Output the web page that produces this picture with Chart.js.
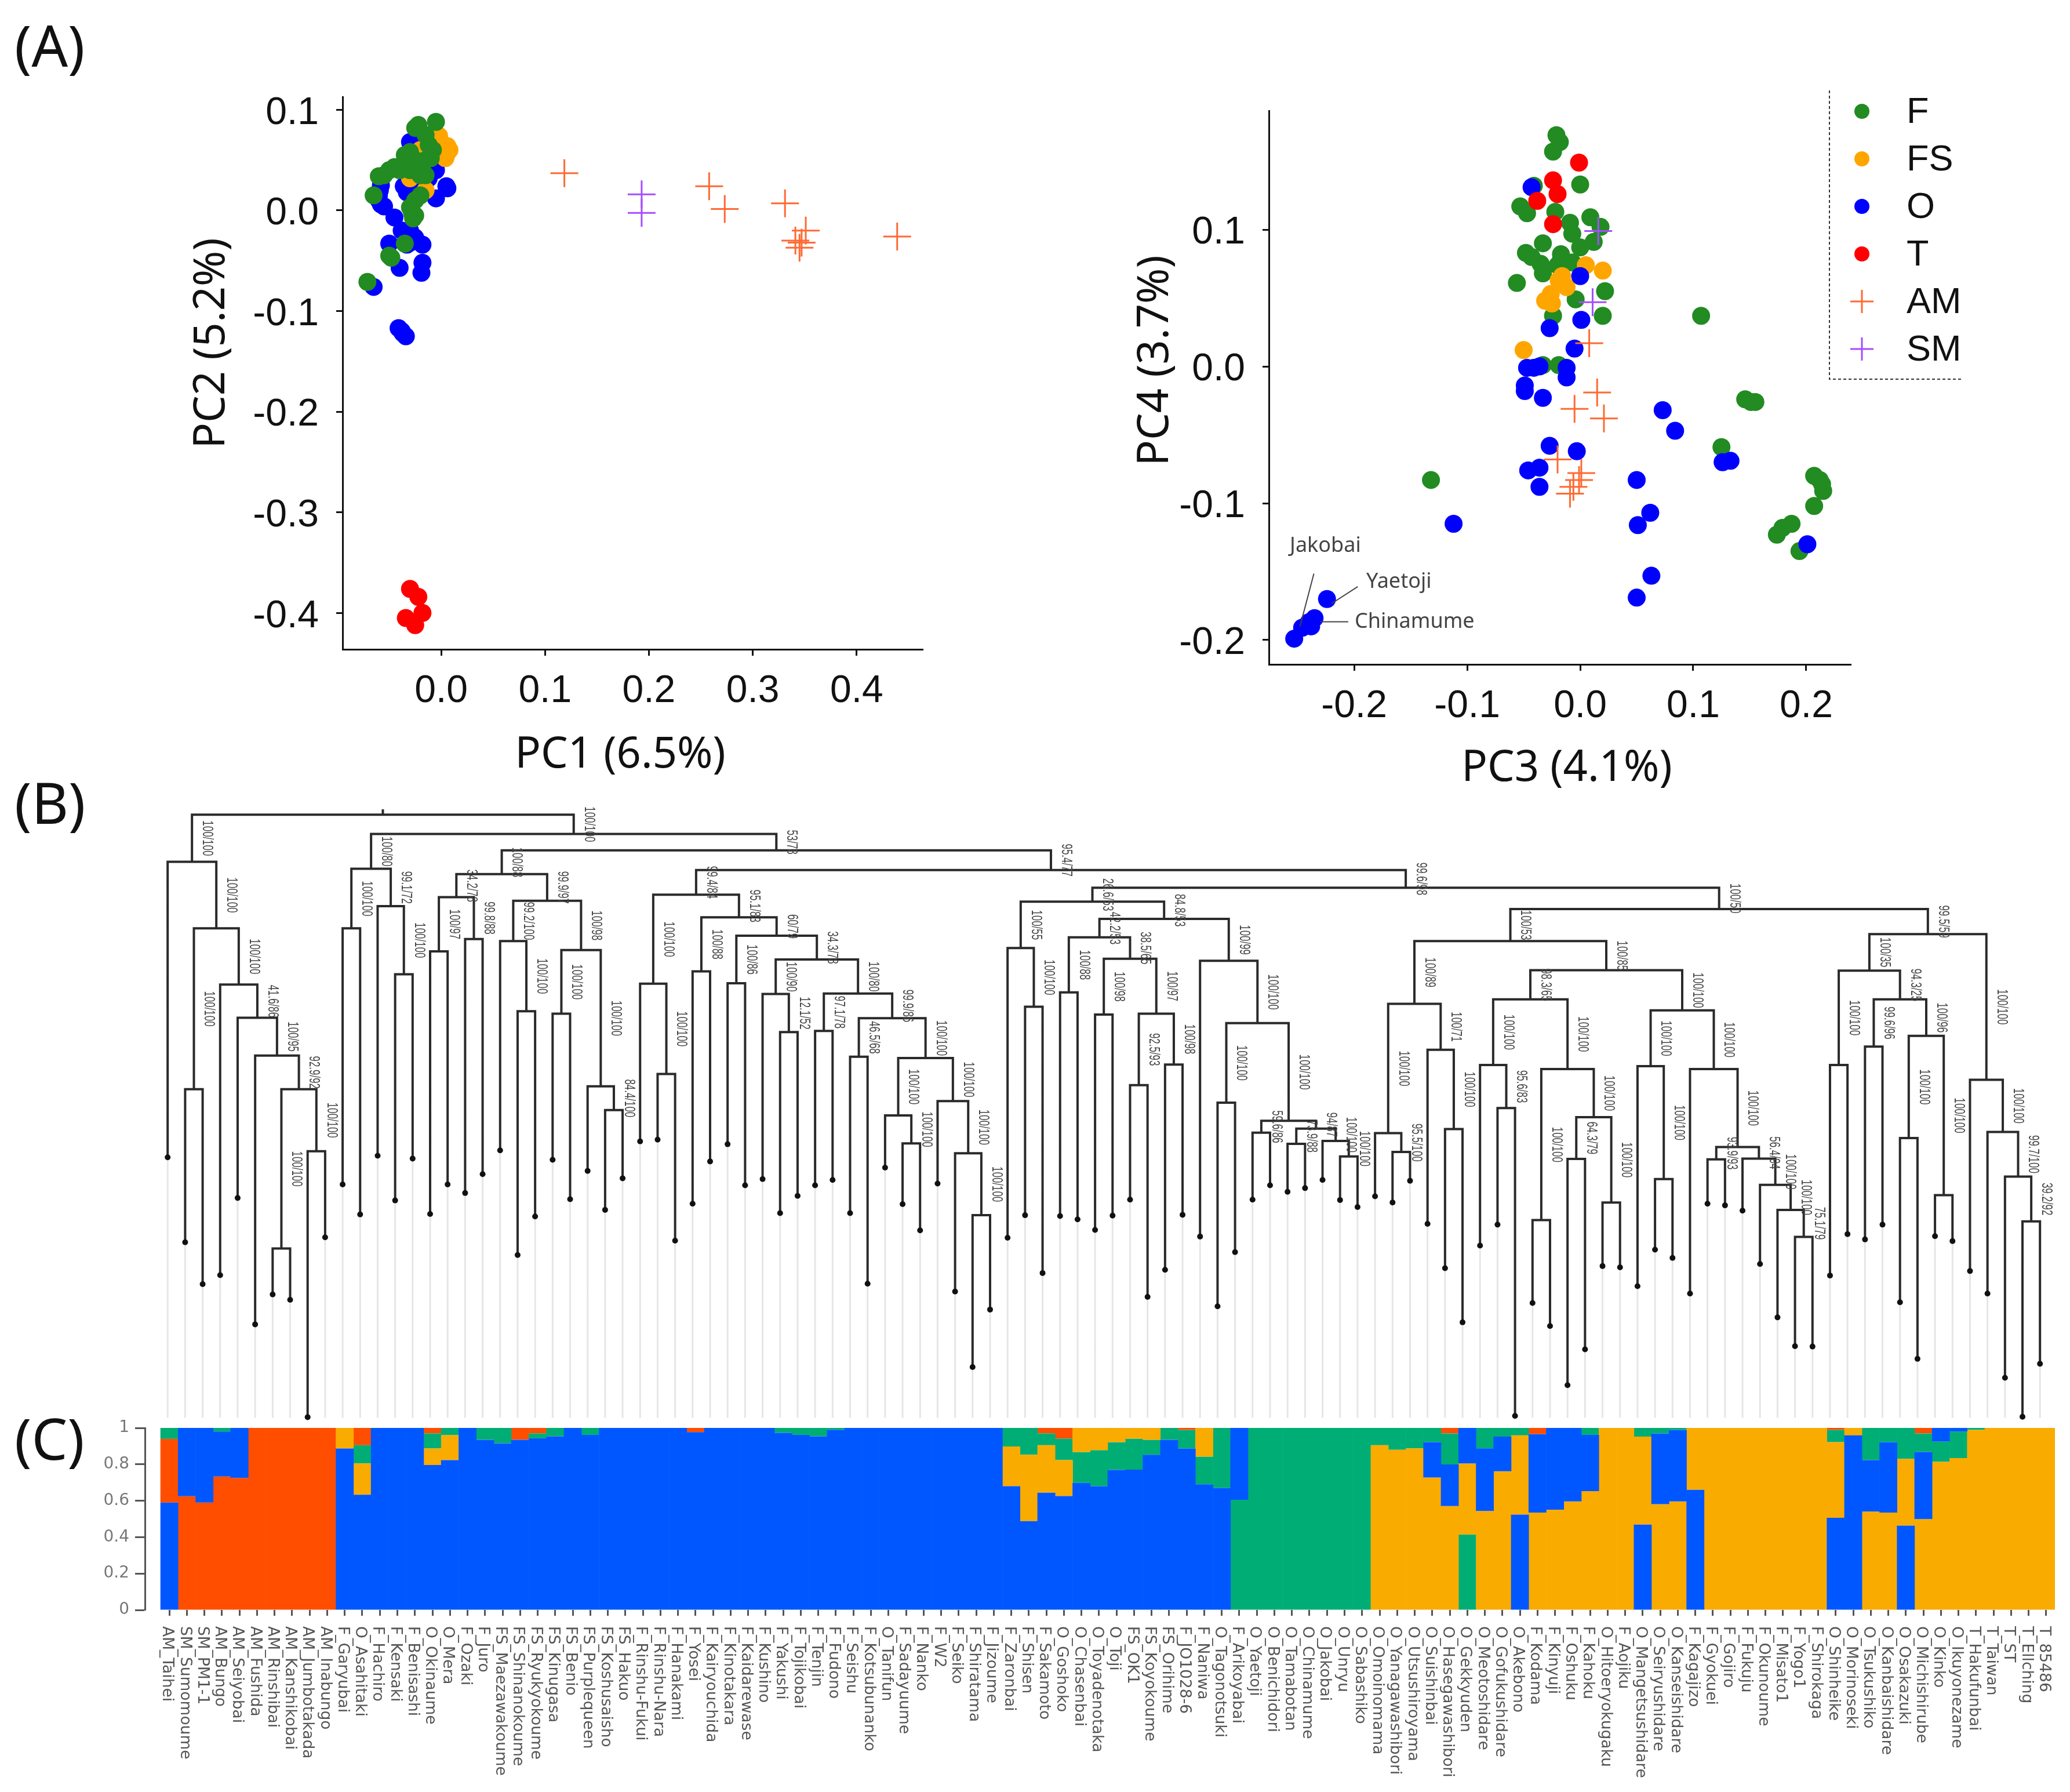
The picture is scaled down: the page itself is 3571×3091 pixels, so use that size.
<!DOCTYPE html>
<html>
<head>
<meta charset="utf-8">
<title>PCA, tree and admixture</title>
<script src="https://cdn.jsdelivr.net/npm/chart.js@4/dist/chart.umd.js"></script>
<style>
  html, body { margin: 0; padding: 0; background: #fff; }
  #page { position: relative; width: 3571px; height: 3091px; overflow: hidden; background: #fff; }
  canvas { position: absolute; }
  .letter { position: absolute; left: 25px; font: 98px "Noto Sans", sans-serif; color: #111; transform: translateY(-50%); }
  .axisTitle { position: absolute; font: 74px "Noto Sans", sans-serif; color: #111; white-space: nowrap; transform: translate(-50%, -50%); }
  .axisTitle.rot { transform: translate(-50%, -50%) rotate(-90deg); }
</style>
</head>
<body>
<div id="page">
  <div class="letter" style="top:77px">(A)</div>
  <div class="letter" style="top:1383px">(B)</div>
  <div class="letter" style="top:2480px">(C)</div>
  <div class="axisTitle" style="left:1070px;top:1295px">PC1 (6.5%)</div>
  <div class="axisTitle rot" style="left:358px;top:592px">PC2 (5.2%)</div>
  <div class="axisTitle" style="left:2703px;top:1318px">PC3 (4.1%)</div>
  <div class="axisTitle rot" style="left:1986px;top:622px">PC4 (3.7%)</div>
  <canvas id="pc12" width="1300" height="1200" style="left:400px;top:60px"></canvas>
  <canvas id="pc34" width="1591" height="1230" style="left:1980px;top:60px"></canvas>
  <canvas id="tree" width="3571" height="1120" style="left:0;top:1340px"></canvas>
  <canvas id="admix" width="3571" height="671" style="left:0;top:2420px"></canvas>
</div>

<script>
// ---- PCA points, [x, y] ----
const pc12F = [[-.005,.088],[-.022,.085],[-.025,.082],[-.015,.075],[-.012,.065],[-.008,.060],[-.030,.058],[-.035,.055],[-.015,.050],[-.010,.052],[-.033,.045],[-.045,.043],[-.050,.040],[-.040,.040],[-.055,.035],[-.060,.034],[-.015,.035],[-.065,.015],[-.020,.015],[-.025,.010],[-.030,.003],[-.028,-.003],[-.027,-.008],[-.025,-.005],[-.050,-.045],[-.048,-.047],[-.035,-.033],[-.071,-.071],[-.030,.040],[-.025,.050],[-.020,.035]];
const pc12FS = [[-.002,.074],[.006,.064],[.008,.060],[.005,.055],[.004,.052],[-.020,.060],[-.030,.032],[-.015,.020],[-.010,.060],[-.035,.040]];
const pc12O = [[-.030,.068],[-.028,.050],[-.020,.045],[-.012,.040],[-.005,.040],[-.012,.032],[-.020,.030],[.005,.024],[.006,.022],[-.005,.012],[-.058,.025],[-.059,.020],[-.060,.015],[-.060,.010],[-.058,.006],[-.055,.004],[-.036,.024],[-.033,.018],[-.025,.020],[-.045,-.007],[-.038,-.020],[-.030,-.020],[-.030,-.032],[-.033,-.034],[-.025,-.027],[-.050,-.033],[-.018,-.034],[-.040,-.057],[-.018,-.052],[-.019,-.062],[-.065,-.076],[-.041,-.117],[-.037,-.122],[-.038,-.120],[-.034,-.125]];
const pc12T = [[-.030,-.376],[-.022,-.384],[-.018,-.400],[-.034,-.405],[-.025,-.412]];
const pc12AM = [[.1186,.037],[.258,.024],[.273,.0015],[.331,.007],[.351,-.020],[.341,-.030],[.347,-.032],[.345,-.037],[.439,-.026]];
const pc12SM = [[.193,.016],[.193,-.0025]];

const pc34F = [[-.021,.169],[-.018,.164],[-.024,.157],[0,.133],[-.041,.132],[-.053,.117],[-.047,.112],[-.022,.113],[-.009,.105],[-.007,.097],[.009,.109],[.018,.102],[-.033,.090],[.012,.091],[0,.087],[-.048,.083],[-.043,.080],[-.017,.082],[-.035,.075],[-.033,.068],[-.020,.074],[-.007,.076],[-.017,.078],[-.056,.061],[.022,.055],[-.004,.049],[-.024,.037],[.020,.037],[.107,.037],[-.033,.001],[-.019,.001],[.146,-.024],[.155,-.026],[.151,-.026],[.125,-.059],[-.132,-.083],[.207,-.080],[.212,-.083],[.214,-.086],[.215,-.091],[.207,-.102],[.187,-.115],[.179,-.118],[.174,-.123],[.194,-.135]];
const pc34FS = [[.005,.074],[.020,.070],[-.019,.063],[-.012,.058],[-.026,.053],[-.031,.048],[-.025,.046],[-.050,.012],[-.016,.066]];
const pc34O = [[-.043,.131],[0,.066],[.001,.034],[-.027,.028],[-.005,.013],[-.047,-.001],[-.041,-.001],[-.036,0],[-.012,-.001],[-.012,-.008],[-.049,-.014],[-.049,-.018],[-.033,-.023],[.073,-.032],[.084,-.047],[-.027,-.058],[-.003,-.062],[-.046,-.076],[-.036,-.074],[-.036,-.088],[.050,-.083],[.062,-.107],[.051,-.116],[.063,-.153],[.050,-.169],[.126,-.070],[.133,-.069],[-.112,-.115],[.201,-.130],[-.224,-.170],[-.235,-.184],[-.240,-.187],[-.246,-.191],[-.238,-.190],[-.253,-.199]];
const pc34T = [[-.001,.149],[-.024,.136],[-.020,.126],[-.038,.121],[-.024,.104]];
const pc34AM = [[.008,.017],[.015,-.019],[-.005,-.031],[.021,-.038],[-.020,-.068],[.001,-.078],[-.001,-.083],[-.006,-.088],[-.009,-.093]];
const pc34SM = [[.016,.099],[.011,.047]];

const pc1Ticks = [0, .1, .2, .3, .4];
const pc2Ticks = [.1, 0, -.1, -.2, -.3, -.4];
const pc3Ticks = [-.2, -.1, 0, .1, .2];
const pc4Ticks = [.1, 0, -.1, -.2];

const legendGroups = ["F", "FS", "O", "T", "AM", "SM"];
const groupColors = { F: "#228b22", FS: "#ffa500", O: "#0000ff", T: "#ff0000", AM: "#ff6a33", SM: "#a64dff" };

// named cultivars in the PC3/PC4 plot: text anchor, then leader line from / to
const calloutNames = ["Jakobai", "Yaetoji", "Chinamume"];
const calloutAnchors = [[-.2569, -.1314], [-.1892, -.1576], [-.1995, -.1869]];
const calloutLeaders = [[[-.2356, -.1515], [-.2479, -.190]], [[-.1968, -.161], [-.2199, -.1733]], [[-.2052, -.1867], [-.2297, -.1867]]];

// ---- Tree: depth of every tip below the top of the panel, then merges ----
const tipDepths = [
  920,1127,1229,1207,1019,1327,1254,1267,1553,1115,
  986,1059,916,1025,923,1058,986,1007,961,903,
  1158,1064,926,1022,953,1048,971,881,877,1123,
  1033,930,888,988,973,1056,1014,988,975,1056,
  1228,945,1034,1098,984,1247,1431,1291,1116,1061,
  1202,1063,1071,1097,1062,1023,1260,1194,1060,1113,
  1283,1151,1023,988,1004,995,975,1024,1041,1015,
  1030,977,1082,1190,1322,1135,1084,1550,1275,1331,
  1475,1388,1185,1188,1234,1145,1165,1252,1033,1037,
  1050,1180,1310,1380,1381,1208,1107,1120,1084,1273,
  1411,1112,1124,1197,1252,1457,1552,1423
];

// [name, left child, right child, depth, support]; a number is a tip, children come first
const treeMerges = [
  ["a1",7,8,1142,"100/100"],["a2",9,10,905,"100/100"],["a3","a1","a2",754,"92.9/92"],["a4",6,"a3",672,"100/95"],
  ["a5",5,"a4",580,"41.6/86"],["a6",4,"a5",499,"100/100"],["a7",2,3,754,"100/100"],["a8","a7","a6",362,"100/100"],["a9",1,"a8",200,"100/100"],
  ["b1",11,12,362,"100/100"],["b2",14,15,474,"100/100"],["b3",13,"b2",308,"99.1/72"],["b4","b1","b3",217,"100/80"],
  ["c1",16,17,418,"100/97"],["c2",18,19,388,"99.8/88"],["c3","c1","c2",286,"34.2/78"],["c4",21,22,564,"100/100"],["c5",20,"c4",393,"99.2/100"],
  ["c6",23,24,570,"100/100"],["c7",26,27,805,"84.4/100"],["c8",25,"c7",747,"100/100"],["c9","c6","c8",415,"100/98"],["c10","c5","c9",295,"99.9/97"],["c11","c3","c10",230,"100/88"],
  ["d1",29,30,717,"100/100"],["d2",28,"d1",497,"100/100"],["d3",31,32,467,"100/88"],["d4",33,34,496,"100/86"],["d5",36,37,615,"12.1/52"],["d6",35,"d5",522,"100/90"],
  ["d7",38,39,612,"97.1/78"],["d8",40,41,675,"46.5/68"],["d9",43,44,886,"100/100"],["d10",42,"d9",818,"100/100"],["d11",47,48,1061,"100/100"],["d12",46,"d11",910,"100/100"],
  ["d13",45,"d12",783,"100/100"],["d14","d10","d13",678,"100/100"],["d15","d8","d14",581,"99.9/86"],["d16","d7","d15",521,"100/80"],["d17","d6","d16",438,"34.3/78"],
  ["d18","d4","d17",380,"60/79"],["d19","d3","d18",335,"95.1/83"],["d20","d2","d19",280,"99.4/84"],
  ["e1",50,51,553,"100/100"],["e2",49,"e1",410,"100/55"],["e3",52,53,518,"100/88"],["e4",54,55,572,"100/98"],["e5",56,57,744,"92.5/93"],["e6",58,59,694,"100/98"],
  ["e7","e5","e6",570,"100/97"],["e8","e4","e7",436,"38.5/65"],["e9","e3","e8",384,"42.2/53"],["e10",61,62,787,"100/100"],["e11",63,64,860,"59.6/86"],["e12",65,66,887,"73.9/88"],
  ["e13",68,69,918,"100/100"],["e14",67,"e13",880,"100/100"],["e15","e12","e14",850,"94/87"],["e16","e11","e15",831,"100/100"],["e17","e10","e16",593,"100/100"],
  ["e18",60,"e17",441,"100/99"],["e19","e9","e18",339,"84.8/53"],["e20","e2","e19",297,"26.6/53"],
  ["f1",71,72,907,"95.5/100"],["f2",70,"f1",861,"100/100"],["f3",74,75,851,"100/100"],["f4",73,"f3",658,"100/71"],["f5","f2","f4",546,"100/89"],["f6",77,78,800,"95.6/83"],
  ["f7",76,"f6",695,"100/100"],["f8",79,80,1073,"100/100"],["f9",81,82,924,"64.3/79"],["f10",83,84,1030,"100/100"],["f11","f9","f10",822,"100/100"],["f12","f8","f11",705,"100/100"],
  ["f13","f7","f12",535,"98.3/65"],["f14",86,87,973,"100/100"],["f15",85,"f14",698,"100/100"],["f16",89,90,925,"93.9/93"],["f17",94,95,1114,"75.1/79"],["f18",93,"f17",1048,"100/100"],
  ["f19",92,"f18",987,"100/100"],["f20",91,"f19",923,"56.4/94"],["f21","f16","f20",895,"100/100"],["f22",88,"f21",705,"100/100"],["f23","f15","f22",562,"100/100"],
  ["f24","f13","f23",464,"100/85"],["f25","f5","f24",393,"100/53"],
  ["g1",96,97,695,"100/100"],["g2",98,99,650,"99.6/96"],["g3",100,101,873,"100/100"],["g4",102,103,1012,"100/100"],["g5","g3","g4",624,"100/96"],["g6","g2","g5",535,"94.3/25"],
  ["g7","g1","g6",465,"100/35"],["g8",107,108,1076,"39.2/92"],["g9",106,"g8",967,"99.7/100"],["g10",105,"g9",858,"100/100"],["g11",104,"g10",731,"100/100"],["g12","g7","g11",376,"99.5/59"],
  ["g13","f25","g12",315,"100/50"],["g14","e20","g13",263,"99.6/98"],["g15","d20","g14",220,"95.4/77"],["g16","c11","g15",172,"53/78"],["g17","b4","g16",132,"100/100"],
  ["root","a9","g17",85,""]
];
const rootStemTop = 72;
const tipFloor = 1555;

// ---- Admixture bars ----
const accessions = [
  "AM_Taihei","SM_Sumomoume","SM_PM1-1","AM_Bungo","AM_Seiyobai","AM_Fushida","AM_Rinshibai","AM_Kanshikobai","AM_Jumbotakada","AM_Inabungo",
  "F_Garyubai","O_Asahitaki","F_Hachiro","F_Kensaki","F_Benisashi","O_Okinaume","O_Mera","F_Ozaki","F_Juro","FS_Maezawakoume",
  "FS_Shinanokoume","FS_Ryukyokoume","FS_Kinugasa","FS_Benio","FS_Purplequeen","FS_Koshusaisho","FS_Hakuo","F_Rinshu-Fukui","F_Rinshu-Nara","F_Hanakami",
  "F_Yosei","F_Kairyouchida","F_Kinotakara","F_Kaidarewase","F_Kushino","F_Yakushi","F_Tojikobai","F_Tenjin","F_Fudono","F_Seishu",
  "F_Kotsubunanko","O_Tanifun","F_Sadayuume","F_Nanko","F_W2","F_Seiko","F_Shiratama","F_Jizoume","F_Zaronbai","F_Shisen",
  "F_Sakamoto","O_Goshoko","O_Chasenbai","O_Toyadenotaka","O_Toji","FS_OK1","FS_Koyokoume","FS_Orihime","F_JO1028-6","F_Naniwa",
  "O_Tagonotsuki","F_Arikoyabai","O_Yaetoji","O_Benichidori","O_Tamabotan","O_Chinamume","O_Jakobai","O_Unryu","O_Sabashiko","O_Omoinomama",
  "O_Yanagawashibori","O_Utsushiroyama","O_Suishinbai","O_Hasegawashibori","O_Gekkyuden","O_Meotoshidare","O_Gofukushidare","O_Akebono","F_Kodama","F_Kinyuji",
  "F_Oshuku","F_Kahoku","O_Hitoeryokugaku","F_Aojiku","O_Mangetsushidare","O_Seiryushidare","O_Kanseishidare","F_Kagajizo","F_Gyokuei","F_Gojiro",
  "F_Fukuju","F_Okunoume","F_Misato1","F_Yogo1","F_Shirokaga","O_Shinheike","O_Morinoseki","O_Tsukushiko","O_Kanbaishidare","O_Osakazuki",
  "O_Michishirube","O_Kinko","O_Ikuyonezame","T_Hakufunbai","T_Taiwan","T_ST","T_Ellching","T_85486"
];
const blueShare = [
  .59,.375,.41,.247,.275,0,0,0,0,0,
  .887,.633,1,1,1,.796,.823,1,.935,.916,
  .935,.943,.954,1,.962,1,1,1,1,1,
  .977,1,1,1,1,.973,.962,.954,.99,1,
  1,1,1,1,1,1,1,1,.68,.488,
  .644,.626,.698,.68,.769,.771,.853,.935,.887,.69,
  .67,.395,0,0,0,0,0,0,0,0,
  0,0,.194,.228,.195,.344,.19,.524,.431,.449,
  .404,.309,0,0,.469,.389,.393,.66,0,0,
  0,0,0,0,0,.506,.959,.282,.387,.463,
  .369,.075,.02,0,0,0,0,0
];
const redShare = [
  .35,.625,.59,.733,.725,1,1,1,1,1,
  0,.095,0,0,0,.03,0,0,0,0,
  .065,.03,0,0,0,0,0,0,0,0,
  .023,0,0,0,0,0,0,0,0,0,
  0,0,0,0,0,0,0,0,0,0,
  .03,.059,0,0,0,0,0,0,.011,0,
  0,0,0,0,0,0,0,0,0,0,
  0,0,0,.03,0,0,0,0,.034,0,
  0,0,0,0,0,0,0,0,0,0,
  0,0,0,0,0,.011,0,0,0,0,
  .03,0,0,0,0,0,0,0
];
const greenShare = [
  .06,0,0,.02,0,0,0,0,0,0,
  0,.10,0,0,0,.083,.04,0,.065,.084,
  0,.027,.046,0,.038,0,0,0,0,0,
  0,0,0,0,0,.027,.038,.046,.01,0,
  0,0,0,0,0,0,0,0,.102,.147,
  .065,.118,.17,.198,.153,.17,.082,.065,.102,.152,
  .33,.605,1,1,1,1,1,1,1,.095,
  .12,.112,.078,.171,.415,.112,.048,.041,0,0,
  0,.038,0,0,.048,.03,.011,0,0,0,
  0,0,0,0,0,.067,0,.177,.078,.17,
  .102,.111,.146,.011,0,0,0,0
];
const orangeShare = [
  0,0,0,0,0,0,0,0,0,0,
  .113,.172,0,0,0,.091,.137,0,0,0,
  0,0,0,0,0,0,0,0,0,0,
  0,0,0,0,0,0,0,0,0,0,
  0,0,0,0,0,0,0,0,.218,.365,
  .261,.197,.132,.122,.078,.059,.065,0,0,.158,
  0,0,0,0,0,0,0,0,0,.905,
  .88,.888,.728,.571,.39,.544,.762,.435,.535,.551,
  .596,.653,1,1,.483,.581,.596,.34,1,1,
  1,1,1,1,1,.416,.041,.541,.535,.367,
  .499,.814,.834,.989,1,1,1,1
];
// bottom-to-top order of the colours inside each bar
const stackOrders = [
  "BRG","RB","RB","RBG","RB","R","R","R","R","R",
  "BO","BOGR","B","B","B","BOGR","BOG","B","BG","BG",
  "BR","BGR","BG","B","BG","B","B","B","B","B",
  "BR","B","B","B","B","BG","BG","BG","BG","B",
  "B","B","B","B","B","B","B","B","BOG","BOG",
  "BOGR","BOGR","BGO","BGO","BGO","BGO","BGO","BG","BGR","BGO",
  "BG","GB","G","G","G","G","G","G","G","OG",
  "OG","OG","OBG","OBGR","GOB","OBG","OBG","BOG","OBR","OB",
  "OB","OBG","O","O","BOG","OBG","OBG","BO","O","O",
  "O","O","O","O","O","BOGR","BO","OBG","OBG","BOG",
  "OBGR","OGB","OGB","OG","O","O","O","O"
];
const shareTicks = [0, .2, .4, .6, .8, 1];

// ---- Scatter charts ----
const tickFont = { family: "Liberation Sans", size: 66 };
const ink = "#111";

function toPoints(pairs) {
  return pairs.map(([x, y]) => ({ x, y }));
}

function dotDataset(label, pairs) {
  return { label, data: toPoints(pairs), backgroundColor: groupColors[label], pointRadius: 15.5, pointBorderWidth: 0, pointHoverRadius: 15.5 };
}

function plusDataset(label, pairs) {
  return { label, data: toPoints(pairs), pointStyle: "cross", borderColor: groupColors[label], backgroundColor: groupColors[label], pointBorderColor: groupColors[label], pointRadius: 24, pointBorderWidth: 3 };
}

// x axis box height and y axis box width are forced so the plot lands where it should
function pcaAxis(tickList, min, max, boxSize, isX) {
  return {
    type: "linear", min, max,
    afterBuildTicks: s => { s.ticks = tickList.map(v => ({ value: v })); },
    afterFit: s => { if (isX) s.height = boxSize; else s.width = boxSize; },
    border: { color: ink, width: 3 },
    grid: { drawOnChartArea: false, drawTicks: true, tickLength: 11, tickWidth: 3, tickColor: ink },
    ticks: { color: ink, font: tickFont, padding: isX ? 22 : 30, labelOffset: isX ? 0 : 6, autoSkip: false, maxRotation: 0, callback: v => v.toFixed(1) }
  };
}

new Chart(document.getElementById("pc12"), {
  type: "scatter",
  data: { datasets: [
    plusDataset("AM", pc12AM), plusDataset("SM", pc12SM),
    dotDataset("F", pc12F), dotDataset("FS", pc12FS), dotDataset("O", pc12O), dotDataset("T", pc12T)
  ] },
  options: {
    responsive: false, animation: false, events: [],
    layout: { padding: { top: 107, right: 108, left: 0, bottom: 0 } },
    plugins: { legend: { display: false }, tooltip: { enabled: false } },
    scales: {
      x: pcaAxis(pc1Ticks, -.0949, .4637, 140, true),
      y: pcaAxis(pc2Ticks, -.4361, .1129, 191, false)
    }
  }
});

// legend box in the corner of the PC3/PC4 plot, drawn from the dataset colours
const cornerLegend = {
  id: "cornerLegend",
  afterDraw(chart) {
    const ctx = chart.ctx;
    ctx.save();
    ctx.strokeStyle = "#333";
    ctx.lineWidth = 2;
    ctx.setLineDash([5, 4]);
    ctx.beginPath();
    ctx.moveTo(1176, 96); ctx.lineTo(1176, 594); ctx.lineTo(1405, 594);
    ctx.stroke();
    ctx.setLineDash([]);
    legendGroups.forEach((g, i) => {
      const y = 132 + i * 82;
      ctx.fillStyle = ctx.strokeStyle = groupColors[g];
      if (g === "AM" || g === "SM") {
        ctx.lineWidth = 3;
        ctx.beginPath();
        ctx.moveTo(1232 - 20, y); ctx.lineTo(1232 + 20, y);
        ctx.moveTo(1232, y - 20); ctx.lineTo(1232, y + 20);
        ctx.stroke();
      } else {
        ctx.beginPath();
        ctx.arc(1232, y, 13, 0, Math.PI * 2);
        ctx.fill();
      }
      ctx.fillStyle = ink;
      ctx.font = '63px "Liberation Sans"';
      ctx.textAlign = "left";
      ctx.textBaseline = "middle";
      ctx.fillText(g, 1309, y + 3);
    });
    ctx.restore();
  }
};

// names next to the leaders in the PC3/PC4 plot
const calloutText = {
  id: "calloutText",
  afterDatasetsDraw(chart) {
    const { ctx, scales } = chart;
    ctx.save();
    ctx.fillStyle = "#444";
    ctx.font = '36px "Noto Sans"';
    ctx.textAlign = "left";
    ctx.textBaseline = "middle";
    calloutNames.forEach((name, i) => {
      ctx.fillText(name, scales.x.getPixelForValue(calloutAnchors[i][0]), scales.y.getPixelForValue(calloutAnchors[i][1]));
    });
    ctx.restore();
  }
};

const leaderPoints = [];
calloutLeaders.forEach(([from, to]) => {
  leaderPoints.push({ x: from[0], y: from[1] }, { x: to[0], y: to[1] }, { x: null, y: null });
});

new Chart(document.getElementById("pc34"), {
  type: "scatter",
  data: { datasets: [
    { label: "leaders", data: leaderPoints, showLine: true, borderColor: "#444", borderWidth: 2, pointRadius: 0, spanGaps: false },
    plusDataset("AM", pc34AM), plusDataset("SM", pc34SM),
    dotDataset("T", pc34T), dotDataset("O", pc34O), dotDataset("FS", pc34FS), dotDataset("F", pc34F)
  ] },
  options: {
    responsive: false, animation: false, events: [],
    layout: { padding: { top: 131, right: 378, left: 0, bottom: 0 } },
    plugins: { legend: { display: false }, tooltip: { enabled: false } },
    scales: {
      x: pcaAxis(pc3Ticks, -.2754, .2395, 144, true),
      y: pcaAxis(pc4Ticks, -.2178, .1869, 209, false)
    }
  },
  plugins: [cornerLegend, calloutText]
});

// ---- Tree ----
const nodes = {};
const parentDepth = {};
const nodeOf = id => (typeof id === "number" ? { x: id, depth: tipDepths[id - 1] } : nodes[id]);
const branchPoints = [];

treeMerges.forEach(([name, left, right, depth]) => {
  const l = nodeOf(left), r = nodeOf(right);
  nodes[name] = { x: (l.x + r.x) / 2, depth };
  parentDepth[left] = depth;
  parentDepth[right] = depth;
  branchPoints.push(
    { x: l.x, y: l.depth }, { x: l.x, y: depth }, { x: r.x, y: depth }, { x: r.x, y: r.depth },
    { x: null, y: null }
  );
});
branchPoints.push({ x: nodes.root.x, y: nodes.root.depth }, { x: nodes.root.x, y: rootStemTop });

const tipPoints = tipDepths.map((d, i) => ({ x: i + 1, y: d }));
const tipGuides = [];
tipDepths.forEach((d, i) => {
  tipGuides.push({ x: i + 1, y: d }, { x: i + 1, y: tipFloor }, { x: null, y: null });
});

// support values, turned along the stem above each merge
const supportLabels = {
  id: "supportLabels",
  afterDatasetsDraw(chart) {
    const { ctx, scales } = chart;
    ctx.save();
    ctx.fillStyle = "#444";
    ctx.font = '26px "Liberation Sans"';
    ctx.textAlign = "center";
    ctx.textBaseline = "middle";
    treeMerges.forEach(([name, , , depth, support]) => {
      if (!support) return;
      const mid = (depth + parentDepth[name]) / 2;
      ctx.save();
      ctx.translate(scales.x.getPixelForValue(nodes[name].x) + 26, scales.y.getPixelForValue(mid));
      ctx.rotate(Math.PI / 2);
      ctx.scale(0.65, 1);
      ctx.fillText(support, 0, 0);
      ctx.restore();
    });
    ctx.restore();
  }
};

new Chart(document.getElementById("tree"), {
  type: "scatter",
  data: { datasets: [
    { label: "tips", data: tipPoints, pointRadius: 5, pointBorderWidth: 0, backgroundColor: "#111" },
    { label: "branches", data: branchPoints, showLine: true, borderColor: "#2a2a2a", borderWidth: 4, pointRadius: 0, spanGaps: false },
    { label: "guides", data: tipGuides, showLine: true, borderColor: "#e6e6e6", borderWidth: 3, pointRadius: 0, spanGaps: false }
  ] },
  options: {
    responsive: false, animation: false, events: [],
    layout: { padding: 0 },
    plugins: { legend: { display: false }, tooltip: { enabled: false } },
    scales: {
      x: { type: "linear", display: false, min: -8.415, max: 109.55 },
      y: { type: "linear", display: false, min: 0, max: 1568, reverse: true }
    }
  },
  plugins: [supportLabels]
});

// ---- Admixture ----
const shareColors = { B: "#0057ff", R: "#ff4e00", G: "#00ae75", O: "#f9ab00" };
const shareBy = { B: blueShare, R: redShare, G: greenShare, O: orangeShare };

// every colour gets one floating segment per bar, placed by the bar's own stack order
function segmentsFor(letter) {
  return accessions.map((_, i) => {
    let low = 0;
    for (const c of stackOrders[i]) {
      if (c === letter) break;
      low += shareBy[c][i];
    }
    return { x: i + 1, y: [low, Math.min(1, low + shareBy[letter][i])] };
  });
}

// names run downwards from under the ticks
const accessionLabels = {
  id: "accessionLabels",
  afterDraw(chart) {
    const { ctx, scales, chartArea } = chart;
    ctx.save();
    ctx.fillStyle = "#555";
    ctx.font = '26.5px "DejaVu Sans"';
    ctx.textAlign = "left";
    ctx.textBaseline = "middle";
    accessions.forEach((name, i) => {
      ctx.save();
      ctx.translate(scales.x.getPixelForValue(i + 1) - 4, chartArea.bottom + 28);
      ctx.rotate(Math.PI / 2);
      ctx.fillText(name, 0, 0);
      ctx.restore();
    });
    ctx.restore();
  }
};

new Chart(document.getElementById("admix"), {
  type: "bar",
  data: { datasets: ["B", "O", "G", "R"].map(letter => ({
    label: letter,
    data: segmentsFor(letter),
    backgroundColor: shareColors[letter],
    borderWidth: 0,
    grouped: false,
    categoryPercentage: 1.02,
    barPercentage: 1
  })) },
  options: {
    responsive: false, animation: false, events: [],
    layout: { padding: { top: 43, right: 26, left: 0, bottom: 0 } },
    plugins: { legend: { display: false }, tooltip: { enabled: false } },
    scales: {
      x: {
        type: "linear", min: -.3926, max: 108.5, offset: false,
        afterBuildTicks: s => { s.ticks = accessions.map((_, i) => ({ value: i + 1 })); },
        afterFit: s => { s.height = 314; },
        border: { display: false },
        grid: { offset: false, drawOnChartArea: false, drawTicks: true, tickLength: 10, tickWidth: 3, tickColor: "#555" },
        ticks: { display: false, autoSkip: false }
      },
      y: {
        type: "linear", min: 0, max: 1,
        afterBuildTicks: s => { s.ticks = shareTicks.map(v => ({ value: v })); },
        afterFit: s => { s.width = 250; },
        border: { color: "#555", width: 3 },
        grid: { drawOnChartArea: false, drawTicks: true, tickLength: 17, tickWidth: 3, tickColor: "#555" },
        ticks: { color: "#777", font: { family: "DejaVu Sans", size: 28 }, padding: 10, callback: v => String(v) }
      }
    }
  },
  plugins: [accessionLabels]
});
</script>
</body>
</html>
